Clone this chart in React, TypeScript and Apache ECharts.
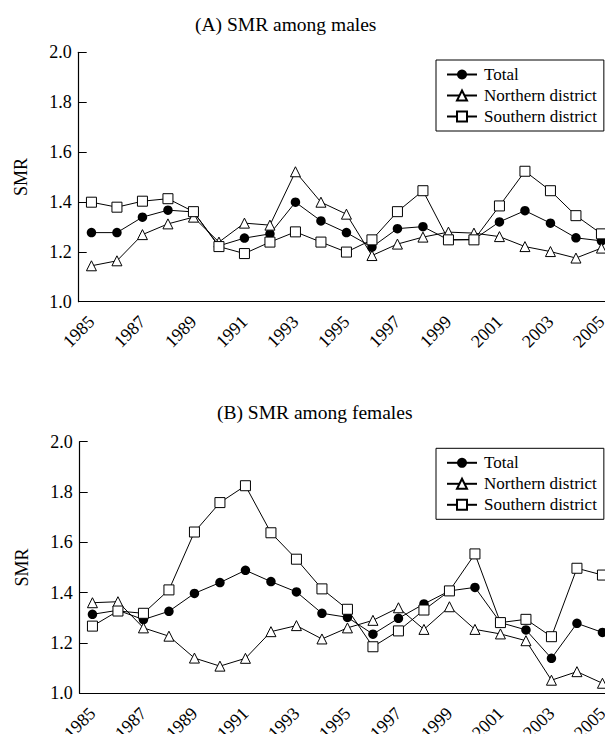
import React, { useEffect, useRef } from "react";
import * as echarts from "echarts";

const years = ["1985","1986","1987","1988","1989","1990","1991","1992","1993","1994","1995","1996","1997","1998","1999","2000","2001","2002","2003","2004","2005"];
const yTicks = ["1.0", "1.2", "1.4", "1.6", "1.8", "2.0"];
const titles = ["(A) SMR among males", "(B) SMR among females"];
const seriesNames = ["Total", "Northern district", "Southern district"];

const totalMales = [1.277,1.277,1.339,1.367,1.36,1.224,1.255,1.272,1.399,1.324,1.277,1.219,1.293,1.301,1.248,1.25,1.32,1.365,1.315,1.256,1.244];
const northMales = [1.144,1.164,1.269,1.312,1.339,1.239,1.315,1.307,1.521,1.399,1.351,1.185,1.231,1.259,1.279,1.275,1.261,1.221,1.201,1.175,1.215];
const southMales = [1.399,1.379,1.403,1.413,1.361,1.221,1.193,1.239,1.28,1.239,1.199,1.248,1.361,1.445,1.248,1.248,1.384,1.523,1.445,1.345,1.272];

const totalFemales = [1.314,1.33,1.293,1.326,1.397,1.44,1.489,1.444,1.403,1.318,1.302,1.235,1.298,1.355,1.407,1.421,1.281,1.252,1.139,1.278,1.242];
const northFemales = [1.36,1.364,1.26,1.227,1.14,1.108,1.139,1.245,1.269,1.216,1.26,1.29,1.34,1.254,1.344,1.254,1.236,1.209,1.052,1.086,1.04];
const southFemales = [1.267,1.327,1.318,1.411,1.641,1.758,1.825,1.638,1.533,1.415,1.334,1.185,1.248,1.331,1.407,1.554,1.281,1.294,1.225,1.497,1.47];

const FONT = "'Liberation Serif', 'Times New Roman', serif";

function makeSeries(name: string, data: number[], idx: number) {
  const kind = seriesNames.indexOf(name);
  const symbol = kind === 0 ? "circle" : kind === 1 ? "triangle" : "rect";
  return {
    name,
    type: "line",
    xAxisIndex: idx,
    yAxisIndex: idx,
    data,
    symbol,
    symbolSize: kind === 0 ? 9.5 : 10,
    showAllSymbol: true,
    lineStyle: { color: "#000", width: 1 },
    itemStyle:
      kind === 0
        ? { color: "#000", borderColor: "#000", borderWidth: 0 }
        : { color: "#fff", borderColor: "#000", borderWidth: 1 },
    emphasis: { disabled: true },
  };
}

export default function App() {
  const ref = useRef<HTMLDivElement>(null);
  useEffect(() => {
    if (!ref.current) return;
    const chart = echarts.init(ref.current, undefined, { renderer: "svg" });
    const grids = [
      { left: 78.7, top: 52.3, width: 535.5, height: 249.4, outerBoundsMode: "none", containLabel: false },
      { left: 79.7, top: 441.7, width: 535.5, height: 251.6, outerBoundsMode: "none", containLabel: false },
    ];
    const xAxes = grids.map((_, i) => ({
      type: "category",
      gridIndex: i,
      data: years,
      boundaryGap: true,
      axisLine: { lineStyle: { color: "#000", width: 1.2 } },
      axisTick: { inside: true, length: 7, interval: 0, lineStyle: { color: "#000" } },
      axisLabel: {
        interval: 1,
        rotate: 45,
        margin: 17,
        color: "#000",
        fontFamily: FONT,
        fontSize: 18,
      },
      splitLine: { show: false },
    }));
    const yAxes = grids.map((_, i) => ({
      type: "value",
      gridIndex: i,
      min: 1,
      max: 2,
      interval: 0.2,
      name: "SMR",
      nameLocation: "middle",
      nameGap: 49,
      nameTextStyle: { color: "#000", fontFamily: FONT, fontSize: 18 },
      axisLine: { show: true, lineStyle: { color: "#000", width: 1.2 } },
      axisTick: { show: true, inside: true, length: 8, lineStyle: { color: "#000" } },
      axisLabel: {
        margin: 7,
        color: "#000",
        fontFamily: FONT,
        fontSize: 18,
        formatter: (v: number) => yTicks[Math.round((v - 1) / 0.2)] ?? v.toFixed(1),
      },
      splitLine: { show: false },
    }));
    const legends = [60, 448.3].map((top) => ({
      data: seriesNames,
      orient: "vertical",
      left: 436,
      top,
      padding: [6, 7, 6, 10],
      backgroundColor: "#fff",
      borderColor: "#000",
      borderWidth: 1,
      borderRadius: 0,
      itemWidth: 30,
      itemHeight: 12.5,
      itemGap: 4,
      selectedMode: false,
      textStyle: {
        color: "#000",
        fontFamily: FONT,
        fontSize: 17,
        lineHeight: 14,
        padding: [0, 0, 0, 2],
      },
    }));
    chart.setOption({
      animation: false,
      backgroundColor: "#fff",
      title: [
        {
          text: titles[0],
          left: 195,
          top: 14,
          padding: 0,
          textStyle: { color: "#000", fontFamily: FONT, fontSize: 19.5, fontWeight: "normal" },
        },
        {
          text: titles[1],
          left: 217,
          top: 402,
          padding: 0,
          textStyle: { color: "#000", fontFamily: FONT, fontSize: 19.5, fontWeight: "normal" },
        },
      ],
      legend: legends,
      grid: grids,
      xAxis: xAxes,
      yAxis: yAxes,
      series: [
        makeSeries("Total", totalMales, 0),
        makeSeries("Northern district", northMales, 0),
        makeSeries("Southern district", southMales, 0),
        makeSeries("Total", totalFemales, 1),
        makeSeries("Northern district", northFemales, 1),
        makeSeries("Southern district", southFemales, 1),
      ],
    });
    return () => chart.dispose();
  }, []);
  return (
    <div
      style={{
        position: "absolute",
        left: 0,
        top: 0,
        width: 605,
        height: 734,
        overflow: "hidden",
        background: "#fff",
      }}
    >
      <div ref={ref} style={{ width: 630, height: 734 }} />
    </div>
  );
}
